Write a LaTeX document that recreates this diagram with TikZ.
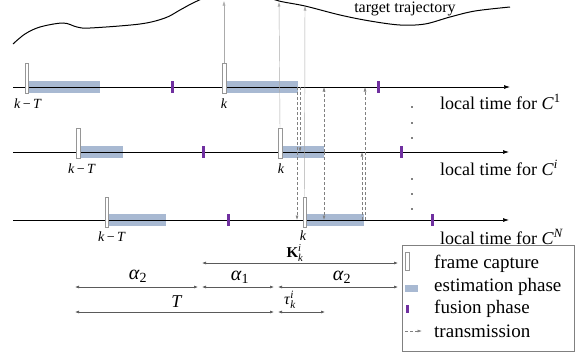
\documentclass[tikz,border=0pt]{standalone}
\usepackage{fontspec}
\setmainfont{Liberation Serif}
\usetikzlibrary{arrows.meta}
\definecolor{estblue}{RGB}{168,185,210}
\definecolor{fusepurple}{RGB}{112,48,160}
\definecolor{capgray}{RGB}{150,150,150}
\definecolor{dimgray}{RGB}{90,90,90}
\makeatletter
\newcommand\mysub[1]{\mbox{\fontsize\sf@size\z@\selectfont #1}}
\makeatother
\begin{document}
\begin{tikzpicture}[x=1pt,y=1pt,
  axisline/.style={line width=0.7pt,-{Latex[length=6pt,width=4pt]}},
  framebox/.style={draw=capgray,fill=white,line width=0.5pt,minimum width=3.5pt,minimum height=30pt,inner sep=0pt,anchor=south},
  estbar/.style={fill=estblue,inner sep=0pt,minimum height=12pt,anchor=west},
  fusbar/.style={fill=fusepurple,inner sep=0pt,minimum width=3pt,minimum height=12pt},
  trans/.style={dash pattern=on 3pt off 2pt,draw=gray,line width=0.6pt,-{Latex[length=4.5pt,width=3pt]}},
  captarrow/.style={draw=capgray!80,line width=0.45pt,-{Latex[length=4.5pt,width=3pt]}},
  dimline/.style={draw=dimgray,line width=0.6pt,{Latex[length=4pt,width=3pt]}-{Latex[length=4pt,width=3pt]}},
  ticklbl/.style={font=\fontsize{14}{16}\selectfont,inner sep=0pt},
  axislbl/.style={font=\fontsize{18}{20}\selectfont,inner sep=0pt,anchor=west},
  legtxt/.style={font=\fontsize{19}{21}\selectfont,inner sep=0pt,anchor=west},
  greek/.style={font=\fontsize{20}{22}\selectfont,inner sep=0pt},
  dimlbl/.style={font=\fontsize{16}{18}\selectfont,inner sep=0pt},
  vdot/.style={fill=black,circle,inner sep=0pt,minimum size=1.6pt}
]
\useasboundingbox (0,-351) rectangle (575,0);
\clip (0,-351) rectangle (575,0);

% target trajectory
\draw[line width=1pt] plot[smooth,tension=0.55] coordinates {(13,-44) (25,-34) (40,-27) (63,-23) (77,-27) (90,-28) (140,-24) (165,-18) (180,-10) (195,-2) (215,6) (240,9) (262,5) (279,-1) (305,-6) (340,-15) (370,-21) (400,-25) (425,-24) (450,-17) (475,-11) (510,-7)};
\node[font=\fontsize{16}{18}\selectfont,inner sep=0pt] (tt) at (405,-9) {target trajectory};
\coordinate (tr1) at (224,-1);
\coordinate (tr2) at (279,-2);
\coordinate (tr3) at (305,-6);

% estimation bars
\node[estbar,minimum width=72pt] (e1a) at (28,-87) {};
\node[estbar,minimum width=72pt] (e1b) at (226,-87) {};
\node[estbar,minimum width=44pt] (e2a) at (79,-152) {};
\node[estbar,minimum width=42pt] (e2b) at (282,-152) {};
\node[estbar,minimum width=58pt] (e3a) at (108,-220) {};
\node[estbar,minimum width=58pt] (e3b) at (306,-220) {};

% axes
\coordinate (a1s) at (13,-87);  \coordinate (a1e) at (510,-87);
\coordinate (a2s) at (13,-152); \coordinate (a2e) at (509,-152);
\coordinate (a3s) at (13,-220); \coordinate (a3e) at (509,-220);
\draw[axisline] (a1s) -- (a1e);
\draw[axisline] (a2s) -- (a2e);
\draw[axisline] (a3s) -- (a3e);

% frame captures
\node[framebox] (f1a) at (26.5,-93) {};
\node[framebox] (f1b) at (224,-93) {};
\node[framebox] (f2a) at (78,-158) {};
\node[framebox] (f2b) at (280,-158) {};
\node[framebox] (f3a) at (106.5,-227) {};
\node[framebox] (f3b) at (304.5,-227) {};

% fusion
\node[fusbar] (u1a) at (172,-87) {};
\node[fusbar] (u1b) at (378.5,-87) {};
\node[fusbar] (u2a) at (203.5,-152) {};
\node[fusbar] (u2b) at (401,-152) {};
\node[fusbar] (u3a) at (228.5,-220) {};
\node[fusbar] (u3b) at (432,-220) {};

% capture arrows to trajectory
\draw[captarrow] (f1b.north) -- (tr1);
\draw[captarrow] (f2b.north) -- (tr2);
\draw[captarrow] (f3b.north) -- (tr3);

% transmissions
\coordinate (t1a) at (297,-87);  \coordinate (t1b) at (297,-220);
\coordinate (t2a) at (300,-87);  \coordinate (t2b) at (300,-152);
\coordinate (t3m) at (324,-152); \coordinate (t3u) at (324,-87); \coordinate (t3d) at (324,-220);
\coordinate (t4a) at (362,-220); \coordinate (t4b) at (362,-152);
\coordinate (t5a) at (365,-220); \coordinate (t5b) at (365,-87);
\draw[trans] (t1a) -- (t1b);
\draw[trans] (t2a) -- (t2b);
\draw[trans] (t3m) -- (t3u);
\draw[trans] (t3m) -- (t3d);
\draw[trans] (t4a) -- (t4b);
\draw[trans] (t5a) -- (t5b);

% vertical dots
\node[vdot] (d1) at (412,-107) {};
\node[vdot] (d2) at (412,-123) {};
\node[vdot] (d3) at (412,-138) {};
\node[vdot] (d4) at (412,-179) {};
\node[vdot] (d5) at (412,-194) {};
\node[vdot] (d6) at (412,-209) {};

% tick labels
\node[ticklbl] (l1a) at (28,-104) {\textit{k}\,−\,\textit{T}};
\node[ticklbl] (l1b) at (224,-104) {\textit{k}};
\node[ticklbl] (l2a) at (82,-169) {\textit{k}\,−\,\textit{T}};
\node[ticklbl] (l2b) at (281,-169) {\textit{k}};
\node[ticklbl] (l3a) at (112,-237) {\textit{k}\,−\,\textit{T}};
\node[ticklbl] (l3b) at (303,-236) {\textit{k}};

% axis labels
\node[axislbl] (x1) at (440,-102) {local time for $\mbox{\textit{C}}^{\mysub{1}}$};
\node[axislbl] (x2) at (440,-168) {local time for $\mbox{\textit{C}}^{\mysub{\textit{i}}}$};
\node[axislbl] (x3) at (440,-237) {local time for $\mbox{\textit{C}}^{\mysub{\textit{N}}}$};

% dimension lines
\coordinate (kL) at (202,-263); \coordinate (kR) at (398,-263);
\draw[dimline] (kL) -- (kR);
\node[dimlbl,font=\fontsize{15}{17}\selectfont] (kl) at (295,-253) {$\mbox{\textbf{K}}_{\mysub{\textit{k}}}^{\mysub{\textit{i}}}$};

\coordinate (p0) at (75,-287); \coordinate (p1) at (198,-287);
\coordinate (p2) at (202,-287); \coordinate (p3) at (274,-287);
\coordinate (p4) at (278,-287); \coordinate (p5) at (398,-287);
\draw[dimline] (p0) -- (p1);
\draw[dimline] (p2) -- (p3);
\draw[dimline] (p4) -- (p5);
\node[greek] (al2a) at (138,-276) {$\mbox{\textit{α}}_{\mysub{2}}$};
\node[greek] (al1) at (240,-277) {$\mbox{\textit{α}}_{\mysub{1}}$};
\node[greek] (al2b) at (342,-277) {$\mbox{\textit{α}}_{\mysub{2}}$};

\coordinate (q0) at (75,-312); \coordinate (q1) at (274,-312);
\coordinate (q2) at (278,-312); \coordinate (q3) at (325,-312);
\draw[dimline] (q0) -- (q1);
\draw[dimline] (q2) -- (q3);
\node[dimlbl,font=\fontsize{18}{20}\selectfont] (tl) at (177,-302) {\textit{T}};
\node[dimlbl] (taul) at (290,-300) {$\mbox{\textit{τ}}_{\mysub{\textit{k}}}^{\mysub{\textit{i}}}$};

% legend
\node[draw=gray,line width=0.6pt,minimum width=172pt,minimum height=106pt,anchor=north west,inner sep=0pt] (leg) at (402,-245) {};
\node[draw=capgray,fill=white,line width=0.5pt,minimum width=3.5pt,minimum height=18pt,inner sep=0pt] (lg1) at (407,-261) {};
\node[fill=estblue,minimum width=13pt,minimum height=7pt,inner sep=0pt] (lg2) at (411.5,-288) {};
\node[fill=fusepurple,minimum width=3pt,minimum height=8pt,inner sep=0pt] (lg3) at (407,-309) {};
\coordinate (lg4a) at (405,-331); \coordinate (lg4b) at (422,-331);
\draw[trans] (lg4a) -- (lg4b);
\node[legtxt] (lt1) at (434,-264) {frame capture};
\node[legtxt] (lt2) at (434,-287) {estimation phase};
\node[legtxt] (lt3) at (434,-309) {fusion phase};
\node[legtxt] (lt4) at (434,-331) {transmission};
\end{tikzpicture}
\end{document}
